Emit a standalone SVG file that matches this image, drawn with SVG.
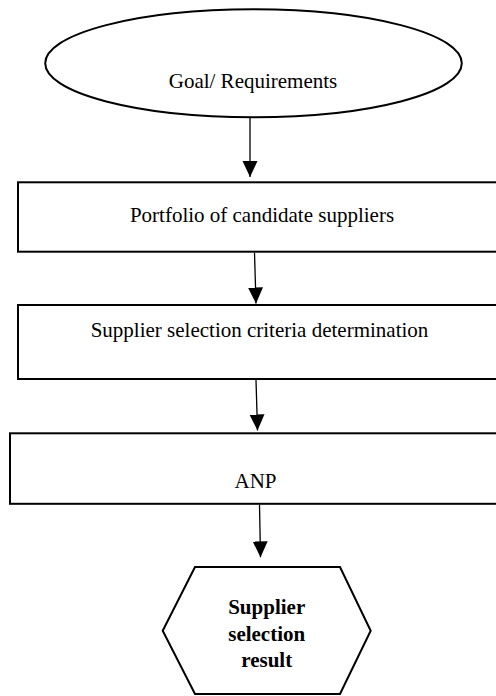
<svg xmlns="http://www.w3.org/2000/svg" width="496" height="696" viewBox="0 0 496 696">
  <defs>
    <style>
      .shape { fill: #ffffff; stroke: #000000; stroke-width: 2; }
      .lbl { font-family: "Liberation Serif", "Times New Roman", serif; font-size: 21px; fill: #000000; text-anchor: middle; }
      .bold { font-weight: bold; }
      .conn { fill: none; stroke: #000000; stroke-width: 1.3; marker-end: url(#arrow); }
    </style>
    <marker id="arrow" markerUnits="userSpaceOnUse" markerWidth="16" markerHeight="16" viewBox="0 0 16 15" refX="16" refY="7.5" orient="auto">
      <path d="M0,0 L16,7.5 L0,15 Z" fill="#000000"/>
    </marker>
  </defs>
  <rect x="0" y="0" width="496" height="696" fill="#ffffff"/>

  <g id="goal">
    <ellipse class="shape" cx="253.5" cy="63.3" rx="208.3" ry="54"/>
    <text class="lbl" x="253" y="88.3">Goal/ Requirements</text>
  </g>

  <g id="portfolio">
    <rect class="shape" x="18" y="182.3" width="490" height="69.4"/>
    <text class="lbl" x="262" y="221.7">Portfolio of candidate suppliers</text>
  </g>

  <g id="criteria">
    <rect class="shape" x="18" y="305" width="490" height="74"/>
    <text class="lbl" x="259.5" y="336.7">Supplier selection criteria determination</text>
  </g>

  <g id="anp">
    <rect class="shape" x="10" y="433.3" width="498" height="70.5"/>
    <text class="lbl" x="255.5" y="488.3">ANP</text>
  </g>

  <g id="result">
    <polygon class="shape" points="195,567 340,567 370.7,630.7 340,694 195,694 162.7,630.7"/>
    <text class="lbl bold" x="266.7" y="614.3">Supplier</text>
    <text class="lbl bold" x="266.7" y="640.7">selection</text>
    <text class="lbl bold" x="266.7" y="666.7">result</text>
  </g>

  <g id="connectors">
    <path class="conn" d="M250,118 L250,177"/>
    <path class="conn" d="M254.5,252.7 L256,303.5"/>
    <path class="conn" d="M256,380 L257.5,430.5"/>
    <path class="conn" d="M259.5,504.8 L260.5,557.3"/>
  </g>
</svg>
